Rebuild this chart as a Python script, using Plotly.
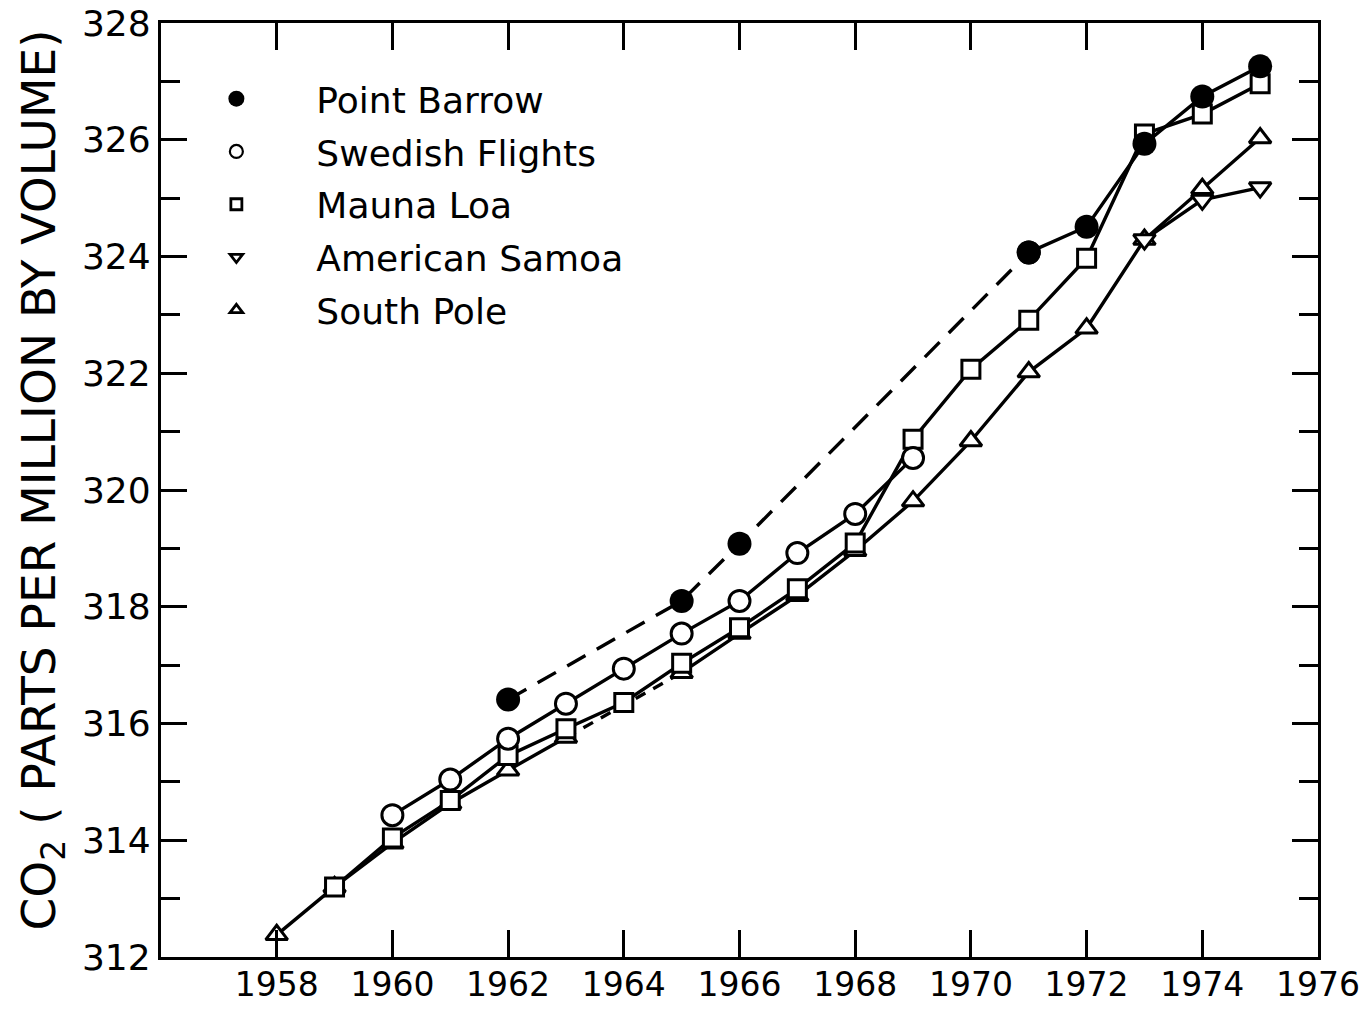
import plotly.graph_objects as go

# ---- data ----
years = list(range(1958, 1976))

point_barrow = [None, None, None, None, 316.41, None, None, 318.10, 319.08,
                None, None, None, None, 324.07, 324.51, 325.93, 326.74, 327.26]
swedish_flights = [None, None, 314.43, 315.04, 315.74, 316.34, 316.94, 317.54,
                   318.10, 318.92, 319.59, 320.55, None, None, None, None, None, None]
mauna_loa = [None, 313.20, 314.04, 314.68, 315.45, 315.91, 316.36, 317.03, 317.64,
             318.31, 319.09, 320.87, 322.07, 322.91, 323.97, 326.10, 326.44, 326.96]
american_samoa = [None, None, None, None, None, None, None, None, None,
                  None, None, None, None, None, None, 324.29, 324.97, 325.18]
south_pole = [312.38, 313.20, 313.95, 314.63, 315.20, 315.76, None, 316.87, 317.54,
              318.19, 318.96, 319.81, 320.84, 322.02, 322.77, 324.29, 325.16, 326.03]

x_ticks = [1958, 1960, 1962, 1964, 1966, 1968, 1970, 1972, 1974, 1976]
y_ticks = [312, 314, 316, 318, 320, 322, 324, 326, 328]

names = ["Point Barrow", "Swedish Flights", "Mauna Loa", "American Samoa", "South Pole"]

FONT = "DejaVu Sans"
BLACK = "black"
LW = 3.4


def pts(series, lo=None, hi=None):
    xs, ys = [], []
    for yr, v in zip(years, series):
        if v is None:
            continue
        if lo is not None and yr < lo:
            continue
        if hi is not None and yr > hi:
            continue
        xs.append(yr)
        ys.append(v)
    return xs, ys


def open_marker(symbol, size):
    return dict(symbol=symbol, size=size, color="white", line=dict(color=BLACK, width=3))


fig = go.Figure()

# South Pole: solid segments with a dashed bridge over the missing year
sp_x, sp_y = pts(south_pole)
gap_pairs = [(a, b) for a, b in zip(zip(sp_x, sp_y), zip(sp_x[1:], sp_y[1:])) if b[0] - a[0] > 1]
for (x0, y0), (x1, y1) in gap_pairs:
    fig.add_trace(go.Scatter(x=[x0, x1], y=[y0, y1], mode="lines",
                             line=dict(color=BLACK, width=LW, dash="11px,9px"),
                             showlegend=False, hoverinfo="skip"))
fig.add_trace(go.Scatter(x=years, y=south_pole, mode="lines+markers", connectgaps=False,
                         line=dict(color=BLACK, width=LW),
                         marker=open_marker("triangle-up", 19), showlegend=False))

# American Samoa
as_x, as_y = pts(american_samoa)
fig.add_trace(go.Scatter(x=as_x, y=as_y, mode="lines+markers",
                         line=dict(color=BLACK, width=LW),
                         marker=open_marker("triangle-down", 19), showlegend=False))

# Mauna Loa
ml_x, ml_y = pts(mauna_loa)
fig.add_trace(go.Scatter(x=ml_x, y=ml_y, mode="lines+markers",
                         line=dict(color=BLACK, width=LW),
                         marker=open_marker("square", 18), showlegend=False))

# Swedish Flights
sf_x, sf_y = pts(swedish_flights)
fig.add_trace(go.Scatter(x=sf_x, y=sf_y, mode="lines+markers",
                         line=dict(color=BLACK, width=LW),
                         marker=open_marker("circle", 21), showlegend=False))

# Point Barrow: dashed up to 1971, solid afterwards
pb_x1, pb_y1 = pts(point_barrow, hi=1971)
pb_x2, pb_y2 = pts(point_barrow, lo=1971)
fig.add_trace(go.Scatter(x=pb_x1, y=pb_y1, mode="lines+markers",
                         line=dict(color=BLACK, width=LW, dash="21px,13px"),
                         marker=dict(symbol="circle", size=24, color=BLACK), showlegend=False))
fig.add_trace(go.Scatter(x=pb_x2, y=pb_y2, mode="lines+markers",
                         line=dict(color=BLACK, width=LW),
                         marker=dict(symbol="circle", size=24, color=BLACK), showlegend=False))

# legend entries (marker only)
legend_markers = {
    "Point Barrow": dict(symbol="circle", size=16, color=BLACK),
    "Swedish Flights": dict(symbol="circle", size=13, color="white", line=dict(color=BLACK, width=2.2)),
    "Mauna Loa": dict(symbol="square", size=11, color="white", line=dict(color=BLACK, width=2.8)),
    "American Samoa": dict(symbol="triangle-down", size=11, color="white", line=dict(color=BLACK, width=2.8)),
    "South Pole": dict(symbol="triangle-up", size=11, color="white", line=dict(color=BLACK, width=2.8)),
}
for nm in names:
    fig.add_trace(go.Scatter(x=[None], y=[None], mode="markers", name=nm,
                             legendgroup=nm, marker=legend_markers[nm], showlegend=True))

axis_common = dict(showline=True, linecolor=BLACK, linewidth=3.4, mirror="ticks",
                   ticks="inside", tickcolor=BLACK, tickwidth=3.2, showgrid=False,
                   zeroline=False, ticklabeloverflow="allow", automargin=False)

fig.update_xaxes(range=[1956, 1976], tickvals=x_ticks, ticktext=[str(v) for v in x_ticks],
                 ticklen=27, ticklabelstandoff=-4,
                 tickfont=dict(family=FONT, size=33, color=BLACK), **axis_common)
fig.update_yaxes(range=[312, 328], tickvals=y_ticks, ticktext=[str(v) for v in y_ticks],
                 ticklen=26, tickfont=dict(family=FONT, size=36, color=BLACK),
                 minor=dict(dtick=1, ticklen=19, ticks="inside", tickcolor=BLACK, tickwidth=3.2,
                            showgrid=False),
                 **axis_common)

fig.update_layout(
    width=1371, height=1010,
    margin=dict(l=161, r=53, t=23, b=53, autoexpand=False),
    paper_bgcolor="white", plot_bgcolor="white",
    font=dict(family=FONT, color=BLACK),
    showlegend=True,
    legend=dict(x=-0.004, y=0.951, xanchor="left", yanchor="top",
                font=dict(family=FONT, size=36, color=BLACK),
                bgcolor="rgba(0,0,0,0)", itemwidth=150, tracegroupgap=3,
                traceorder="grouped", itemsizing="trace"),
    annotations=[dict(text="CO<sub>2</sub> ( PARTS PER MILLION BY VOLUME)",
                      xref="paper", yref="paper", x=-0.103, y=0.511,
                      xanchor="center", yanchor="middle", textangle=-90, showarrow=False,
                      font=dict(family=FONT, size=47, color=BLACK))],
)

fig.write_html("out.html",
               config={"displayModeBar": False},
               post_script="document.body.style.margin='0';"
                           "document.documentElement.style.overflow='hidden';")
